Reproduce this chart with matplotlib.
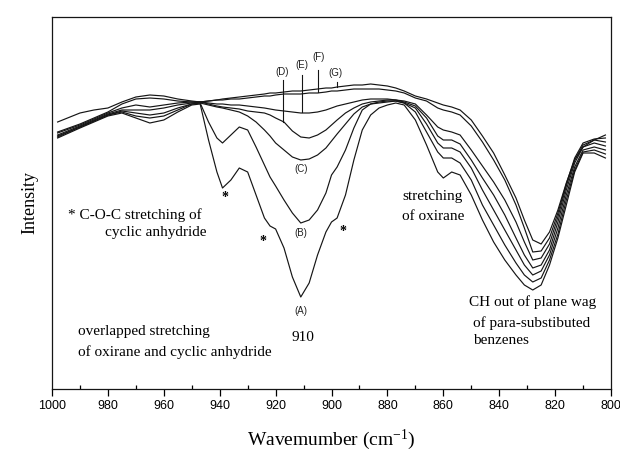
import matplotlib
matplotlib.use("Agg")
import matplotlib.pyplot as plt

plt.rcParams['font.family'] = ['Liberation Serif', 'DejaVu Serif']
plt.rcParams['mathtext.default'] = 'regular'

# wavenumber grid (cm-1)
wn = [998, 990, 985, 980, 975, 970, 965, 960, 955, 950, 947,
      944, 941, 939, 936, 933, 930, 927, 924, 922, 920,
      917, 914, 911, 908, 905, 902, 900, 898, 895, 892,
      889, 886, 883, 880, 877, 874, 870, 866, 862, 860,
      857, 854, 850, 846, 842, 838, 834, 831, 828, 825,
      822, 819, 816, 813, 810, 806, 802]

# intensity (arbitrary units) for spectra A..G
spec_a = [251, 261, 267, 273, 276, 271, 266, 269, 277, 284, 285,
          249, 217, 201, 209, 221, 217, 194, 171, 163, 160,
          141, 112, 92, 106, 134, 157, 167, 171, 194, 229,
          259, 274, 281, 284, 286, 284, 269, 244, 217, 211,
          217, 214, 194, 169, 147, 129, 114, 104, 99, 104,
          124, 151, 184, 217, 236, 236, 231]
spec_b = [252, 262, 268, 274, 277, 273, 271, 273, 279, 285, 286,
          267, 251, 246, 254, 262, 259, 242, 224, 212, 203,
          189, 176, 166, 169, 179, 196, 214, 222, 239, 261,
          279, 285, 287, 288, 288, 286, 277, 257, 237, 231,
          231, 226, 209, 184, 164, 144, 126, 114, 107, 111,
          129, 155, 189, 219, 237, 239, 235]
spec_c = [253, 262, 268, 274, 278, 276, 274, 276, 281, 285, 286,
          284, 282, 281, 279, 277, 273, 267, 259, 253, 246,
          239, 232, 229, 230, 234, 241, 248, 255, 265, 275,
          282, 285, 286, 287, 288, 286, 281, 265, 246, 241,
          241, 237, 221, 199, 179, 159, 139, 124, 114, 118,
          134, 161, 194, 222, 239, 242, 239]
spec_d = [254, 263, 269, 275, 279, 279, 279, 281, 284, 286, 287,
          285, 283, 282, 281, 280, 278, 277, 276, 274, 271,
          267, 258, 252, 251, 254, 259, 264, 269, 276, 281,
          285, 287, 288, 289, 289, 287, 283, 271, 253, 249,
          249, 245, 229, 211, 194, 174, 151, 134, 121, 124,
          139, 167, 199, 226, 242, 246, 243]
spec_e = [256, 264, 270, 276, 281, 284, 282, 284, 286, 287, 287,
          286, 285, 285, 284, 284, 283, 282, 281, 280, 279,
          278, 277, 276, 276, 277, 279, 281, 283, 285, 287,
          289, 290, 290, 290, 289, 288, 285, 274, 262, 259,
          257, 254, 239, 223, 207, 189, 167, 147, 129, 131,
          145, 172, 203, 229, 244, 249, 247]
spec_f = [257, 265, 271, 277, 285, 290, 291, 290, 288, 287, 287,
          288, 289, 289, 290, 290, 291, 292, 293, 293, 294,
          295, 295, 295, 296, 296, 297, 298, 298, 299, 300,
          300, 300, 300, 299, 298, 296, 291, 288, 281, 279,
          277, 274, 263, 247, 229, 209, 184, 161, 137, 138,
          151, 176, 205, 231, 246, 250, 251]
spec_g = [267, 276, 279, 281, 287, 292, 294, 293, 290, 288, 287,
          288, 289, 290, 291, 292, 293, 294, 295, 296, 296,
          297, 298, 298, 299, 300, 301, 301, 302, 303, 304,
          304, 305, 304, 303, 301, 298, 293, 290, 286, 284,
          282, 279, 269, 253, 236, 214, 191, 169, 149, 145,
          157, 179, 206, 229, 242, 249, 254]

spectra = [spec_a, spec_b, spec_c, spec_d, spec_e, spec_f, spec_g]

# labels under the deep curves
low_names = ['(A)', '(B)', '(C)']
low_pos = [(911, 78), (911, 156), (911, 220)]
# labels with pointer lines for the shallow curves
top_names = ['(D)', '(E)', '(F)', '(G)']
top_pos = [(917.7, 317), (910.6, 324), (904.8, 332), (898.7, 316)]
pointer_x = [917.4, 910.6, 904.8, 898.0]
pointer_y = [(309, 267), (314, 277), (319, 297), (307, 302)]
star_pos = [(938.1, 191), (924.5, 147), (895.9, 157)]

fig = plt.figure(figsize=(6.2, 4.57), dpi=100)
ax = fig.add_axes([0.0839, 0.1488, 0.9016, 0.8140])

for s in spectra:
    ax.plot(wn, s, color='#151515', lw=0.85)

for name, (x, y) in zip(low_names + top_names, low_pos + top_pos):
    ax.text(x, y, name, family='Liberation Sans', fontsize=7,
            ha='center', va='center', color='#222222')
for x, (y0, y1) in zip(pointer_x, pointer_y):
    ax.plot([x, x], [y0, y1], color='#151515', lw=0.8)
for x, y in star_pos:
    ax.text(x, y, '*', fontsize=10, fontweight='bold', ha='center', va='center')

fs = 11
ax.text(994.3, 174, '* C-O-C stretching of', fontsize=fs, va='center')
ax.text(981.0, 156, 'cyclic anhydride', fontsize=fs, va='center')
ax.text(874.8, 192, 'stretching', fontsize=fs, va='center')
ax.text(874.8, 172, 'of oxirane', fontsize=fs, va='center')
ax.text(990.7, 57, 'overlapped stretching', fontsize=fs, va='center')
ax.text(990.7, 37, 'of oxirane and cyclic anhydride', fontsize=fs, va='center')
ax.text(910.2, 51, '910', fontsize=fs, ha='center', va='center')
ax.text(850.8, 87, 'CH out of plane wag', fontsize=fs, va='center')
ax.text(849.4, 66, 'of para-substibuted', fontsize=fs, va='center')
ax.text(849.4, 48, 'benzenes', fontsize=fs, va='center')

ax.set_xlim(1000, 800)
ax.set_ylim(0, 372)
ax.set_yticks([])
ax.set_xticks(range(1000, 799, -20))
ax.set_xticks(range(990, 800, -20), minor=True)
ax.tick_params(axis='x', which='major', direction='out', length=5, width=0.9,
               labelsize=9, labelfontfamily='Liberation Sans', pad=3)
ax.tick_params(axis='x', which='minor', direction='in', length=3, width=0.9)
for sp in ax.spines.values():
    sp.set_linewidth(0.9)
    sp.set_color('#151515')

ax.set_xlabel('Wavemumber (cm$^{-1}$)', fontsize=14, labelpad=11)
ax.set_ylabel('Intensity', fontsize=13, labelpad=10)

fig.savefig('out.png', dpi=100)
